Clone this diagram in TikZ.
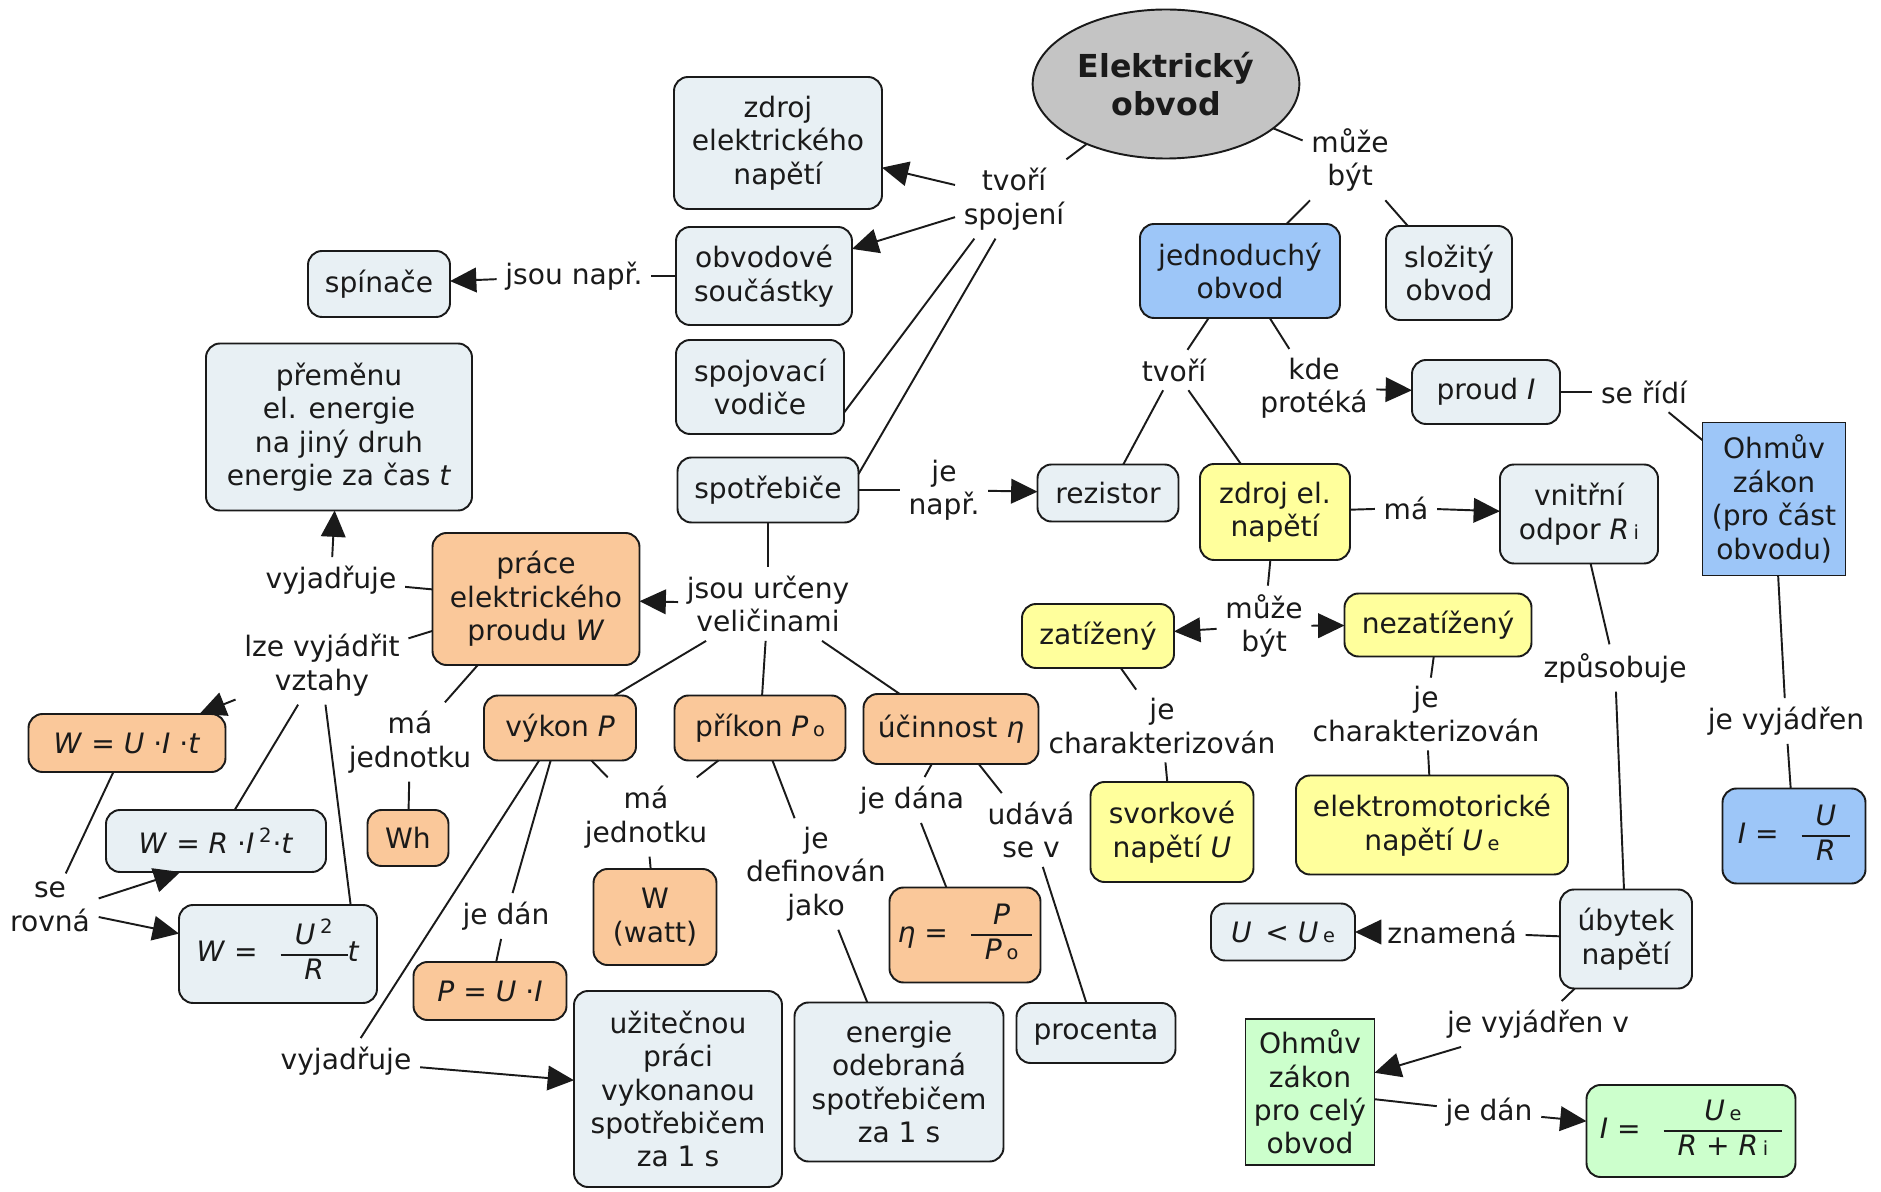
\documentclass[tikz,border=0pt]{standalone}
\usepackage{fontspec}
\setmainfont{DejaVu Sans}
\usetikzlibrary{arrows.meta,shapes.geometric}
\definecolor{cmInk}{HTML}{1A1A1A}
\definecolor{cmGray}{HTML}{C4C4C4}
\definecolor{cmPale}{HTML}{E8F0F4}
\definecolor{cmPeach}{HTML}{FAC89A}
\definecolor{cmSky}{HTML}{9DC6F8}
\definecolor{cmLemon}{HTML}{FFFF9C}
\definecolor{cmMint}{HTML}{CCFFCC}
\setlength{\arrayrulewidth}{0.9pt}
\newcommand\idx[1]{\,{\fontsize{11}{11}\selectfont #1}}
\newcommand\frc[2]{\enspace\begin{tabular}{@{\enspace}c@{\enspace}}#1\\\hline #2\end{tabular}}

\begin{document}
\begin{tikzpicture}[
  x=0.02cm,y=-0.02cm,
  font=\fontsize{16}{19}\selectfont,
  every node/.style={
    text=cmInk,align=center,outer sep=0pt
  },
  pale/.style={
    rounded corners=8pt,
    line width=1.1pt,
    draw=cmInk,
    fill=cmPale,
    inner sep=2pt
  },
  peach/.style={pale,fill=cmPeach},
  sky/.style={pale,fill=cmSky},
  lemon/.style={pale,fill=cmLemon},
  mint/.style={pale,fill=cmMint},
  law/.style={rounded corners=0pt},
  wh/.style 2 args={
    minimum width=#1*0.02cm,
    minimum height=#2*0.02cm
  },
  phrase/.style={inner sep=1pt,outer sep=4pt},
  link/.style={draw=cmInk,line width=1.1pt},
  flow/.style={link,-{Triangle[length=15pt,width=14pt]}}
]
\path[use as bounding box] (0,0) rectangle (1881,1192);

% Main concept
\node[
  ellipse,
  draw=cmInk,
  line width=1.1pt,
  fill=cmGray,
  wh={256}{149},
  font=\bfseries\fontsize{18}{22}\selectfont
] (elektr) at (1166,84) {Elektrický\\obvod};

% Parts of the circuit
\node[pale,wh={208}{132}] (zdroj) at (778,143)
  {zdroj\\elektrického\\napětí};
\node[pale,wh={176}{98}] (obv) at (764,276)
  {obvodové\\součástky};
\node[pale,wh={168}{94}] (spoj) at (760,387)
  {spojovací\\vodiče};
\node[pale,wh={181}{65}] (spotr) at (768,490) {spotřebiče};
\node[pale,wh={142}{66}] (spin) at (379,284) {spínače};

% Work, power and efficiency
\node[pale,wh={266}{167}] (premena) at (339,427)
  {přeměnu\\el. energie\\na jiný druh\\energie za čas \textit{t}};
\node[peach,wh={207}{132}] (prace) at (536,599)
  {práce\\elektrického\\proudu \textit{W}};
\node[peach,wh={197}{58}] (wuit) at (127,743)
  {\textit{W} = \textit{U} ·\textit{I} ·\textit{t}};
\node[pale,wh={220}{62}] (wri) at (216,841)
  {\textit{W} = \textit{R} ·\textit{I}\,\textsuperscript{2}·\textit{t}};
\node[pale,wh={198}{98}] (wur) at (278,954)
  {\textit{W} = \frc{\textit{U}\,\textsuperscript{2}}{\textit{R}}\textit{t}};
\node[peach,wh={81}{56}] (whour) at (408,838) {Wh};
\node[peach,wh={152}{65}] (vykon) at (560,728) {výkon \textit{P}};
\node[peach,wh={171}{65}] (prikon) at (760,728)
  {příkon \textit{P}\idx{o}};
\node[peach,wh={175}{70}] (ucin) at (951,729)
  {účinnost \textit{η}};
\node[peach,wh={123}{96}] (watt) at (655,917) {W\\(watt)};
\node[peach,wh={153}{58}] (pui) at (490,991)
  {\textit{P} = \textit{U} ·\textit{I}};
\node[peach,wh={151}{95}] (eta) at (965,935)
  {\textit{η} = \frc{\textit{P}}{\textit{P}\idx{o}}};
\node[pale,wh={208}{196}] (uzit) at (678,1089)
  {užitečnou\\práci\\vykonanou\\spotřebičem\\za 1 s};
\node[pale,wh={209}{159}] (energie) at (899,1082)
  {energie\\odebraná\\spotřebičem\\za 1 s};
\node[pale,wh={159}{60}] (procenta) at (1096,1033) {procenta};

% Simple circuit side
\node[sky,wh={200}{94}] (jednod) at (1240,271)
  {jednoduchý\\obvod};
\node[pale,wh={126}{94}] (slozity) at (1449,273)
  {složitý\\obvod};
\node[pale,wh={148}{64}] (proud) at (1486,392) {proud \textit{I}};
\node[sky,law,wh={143}{153}] (ohm) at (1774,499)
  {Ohmův\\zákon\\(pro část\\obvodu)};
\node[sky,wh={143}{95}] (iur) at (1794,836)
  {\textit{I} = \frc{\textit{U}}{\textit{R}}};
\node[pale,wh={141}{57}] (rezistor) at (1108,493) {rezistor};
\node[lemon,wh={150}{96}] (zdrojel) at (1275,512)
  {zdroj el.\\napětí};
\node[pale,wh={158}{99}] (vnitrni) at (1579,514)
  {vnitřní\\odpor \textit{R}\idx{i}};
\node[lemon,wh={152}{64}] (zatiz) at (1098,636) {zatížený};
\node[lemon,wh={187}{63}] (nezatiz) at (1438,625) {nezatížený};
\node[lemon,wh={163}{100}] (svork) at (1172,832)
  {svorkové\\napětí \textit{U}};
\node[lemon,wh={272}{99}] (emn) at (1432,825)
  {elektromotorické\\napětí \textit{U}\idx{e}};
\node[pale,wh={132}{99}] (ubytek) at (1626,939)
  {úbytek\\napětí};
\node[pale,wh={144}{57}] (uue) at (1283,932)
  {\textit{U} \,< \textit{U}\idx{e}};
\node[mint,law,wh={129}{146}] (ohmcel) at (1310,1092)
  {Ohmův\\zákon\\pro celý\\obvod};
\node[mint,wh={209}{92}] (iue) at (1691,1131)
  {\textit{I} = \frc{\textit{U}\idx{e}}{\textit{R} + \textit{R}\idx{i}}};

% Linking phrases
\node[phrase] (tvs) at (1014,199) {tvoří\\spojení};
\node[phrase] (mb1) at (1350,160) {může\\být};
\node[phrase] (jsounapr) at (574,276) {jsou např.};
\node[phrase] (tvori) at (1174,370) {tvoří};
\node[phrase] (kdeprot) at (1314,388) {kde\\protéká};
\node[phrase] (seridi) at (1644,392) {se řídí};
\node[phrase] (jenapr) at (944,490) {je\\např.};
\node[phrase] (ma) at (1406,508) {má};
\node[phrase] (mb2) at (1264,626) {může\\být};
\node[phrase] (urceny) at (768,604) {jsou určeny\\veličinami};
\node[phrase] (vyj1) at (331,580) {vyjadřuje};
\node[phrase] (lze) at (322,665) {lze vyjádřit\\vztahy};
\node[phrase] (majed1) at (410,742) {má\\jednotku};
\node[phrase] (char1) at (1162,726) {je\\charakterizován};
\node[phrase] (char2) at (1426,714) {je\\charakterizován};
\node[phrase] (zpus) at (1615,668) {způsobuje};
\node[phrase] (jevyj) at (1786,721) {je vyjádřen};
\node[phrase] (majed2) at (646,817) {má\\jednotku};
\node[phrase] (jedef) at (816,874) {je\\definován\\jako};
\node[phrase] (jedana) at (912,800) {je dána};
\node[phrase] (udava) at (1031,830) {udává\\se v};
\node[phrase] (jedan1) at (506,916) {je dán};
\node[phrase] (vyj2) at (346,1061) {vyjadřuje};
\node[phrase] (serovna) at (50,907) {se\\rovná};
\node[phrase] (znamena) at (1452,932) {znamená};
\node[phrase] (jevyjv) at (1538,1024) {je vyjádřen v};
\node[phrase] (jedan2) at (1489,1112) {je dán};

% Plain connections
\foreach \a/\b in {
  elektr/tvs, elektr/mb1, mb1/jednod, mb1/slozity,
  obv/jsounapr, jednod/tvori, tvori/rezistor, tvori/zdrojel,
  jednod/kdeprot, proud/seridi, seridi/ohm, ohm/jevyj, jevyj/iur,
  spotr/jenapr, zdrojel/ma, zdrojel/mb2,
  zatiz/char1, char1/svork, nezatiz/char2, char2/emn,
  vnitrni/zpus, zpus/ubytek, ubytek/znamena, ubytek/jevyjv,
  ohmcel/jedan2, spotr/urceny, urceny/vykon, urceny/prikon,
  urceny/ucin, prace/vyj1, prace/lze, lze/wri, wuit/serovna,
  prace/majed1, majed1/whour, vykon/majed2, prikon/majed2,
  majed2/watt, vykon/jedan1, jedan1/pui, vykon/vyj2,
  prikon/jedef, jedef/energie, ucin/jedana, jedana/eta,
  ucin/udava, udava/procenta}{
  \draw[link] (\a) -- (\b);
}

\draw[link] (tvs.225) -- (spoj.-17);
\draw[link] (tvs.245) -- (spotr.10);
\draw[link] (lze.-85) -- (wur.34);

% Directed connections
\foreach \a/\b in {
  tvs/zdroj, tvs/obv, jsounapr/spin, kdeprot/proud,
  jenapr/rezistor, ma/vnitrni, mb2/zatiz, mb2/nezatiz,
  znamena/uue, jevyjv/ohmcel, jedan2/iue, urceny/prace,
  vyj1/premena, lze/wuit, serovna/wur, vyj2/uzit}{
  \draw[flow] (\a) -- (\b);
}

\draw[flow] (serovna.10) -- (wri.221);

\end{tikzpicture}
\end{document}
